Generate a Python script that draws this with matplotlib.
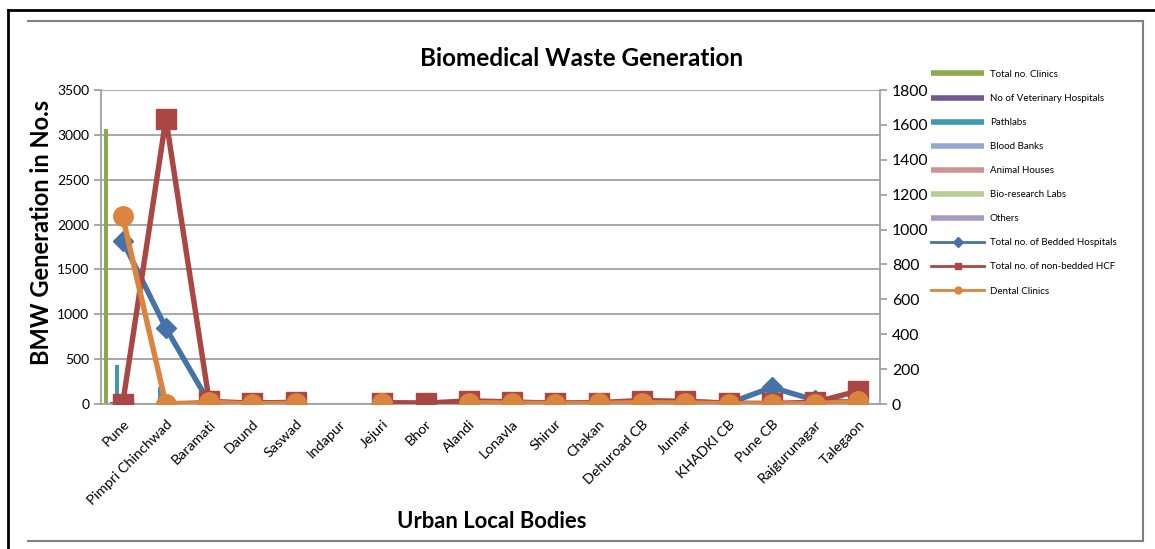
import numpy as np
import matplotlib
matplotlib.use("Agg")
import matplotlib.pyplot as plt
from matplotlib.lines import Line2D

plt.rcParams['font.family'] = ['Lato', 'DejaVu Sans']

nan = np.nan

categories = ['Pune', 'Pimpri Chinchwad', 'Baramati', 'Daund', 'Saswad', 'Indapur',
              'Jejuri', 'Bhor', 'Alandi', 'Lonavla', 'Shirur', 'Chakan',
              'Dehuroad CB', 'Junnar', 'KHADKI CB', 'Pune CB', 'Rajgurunagar', 'Talegaon']

# bar series (left axis)
total_clinics = [3060, 0, 0, 0, 0, 0, 0, 0, 0, 0, 0, 0, 0, 0, 0, 0, 0, 0]
vet_hospitals = [25, 0, 0, 0, 0, 0, 0, 0, 0, 0, 0, 0, 0, 0, 0, 0, 0, 0]
pathlabs = [430, 190, 0, 0, 0, 0, 0, 0, 0, 0, 0, 0, 0, 0, 0, 0, 0, 0]
blood_banks = [10, 5, 0, 0, 0, 0, 0, 0, 0, 0, 0, 0, 0, 0, 0, 0, 0, 0]
animal_houses = [5, 0, 0, 0, 0, 0, 0, 0, 0, 0, 0, 0, 0, 0, 0, 0, 0, 0]
bio_research = [20, 5, 0, 0, 0, 0, 0, 0, 0, 0, 0, 0, 0, 0, 0, 0, 0, 0]
others = [5, 0, 0, 0, 0, 0, 0, 0, 0, 0, 0, 0, 0, 0, 0, 0, 0, 0]

# line series (right axis)
bedded = [935, 435, 8, 6, 5, nan, 4, 4, 10, 8, 5, 6, 8, 14, 4, 95, 22, 10]
non_bedded = [0, 1635, 15, 5, 10, nan, 8, 5, 18, 12, 4, 8, 20, 15, 5, 3, 10, 75]
dental = [1075, 0, 10, 0, 5, nan, 5, nan, 8, 5, 2, 3, 8, 5, 2, 0, 2, 15]

bar_series = [
    ('Total no. Clinics', total_clinics, '#8BAA4B'),
    ('No of Veterinary Hospitals', vet_hospitals, '#71588F'),
    ('Pathlabs', pathlabs, '#4198AF'),
    ('Blood Banks', blood_banks, '#93A9CF'),
    ('Animal Houses', animal_houses, '#D19392'),
    ('Bio-research Labs', bio_research, '#B9CD96'),
    ('Others', others, '#A99BBD'),
]
line_series = [
    ('Total no. of Bedded Hospitals', bedded, '#4572A7', 'D', 10),
    ('Total no. of non-bedded HCF', non_bedded, '#AA4643', 's', 14),
    ('Dental Clinics', dental, '#DB843D', 'o', 14),
]

fig = plt.figure(figsize=(11.55, 5.49), dpi=100)
ax = fig.add_axes([101 / 1155, 1 - 404 / 549, (880 - 101) / 1155, (404 - 90) / 549])
ax2 = ax.twinx()

x = np.arange(len(categories))
w = 0.125
for i, (name, vals, col) in enumerate(bar_series):
    ax.bar(x + (i - 3) * w, vals, width=w * 0.75, color=col, zorder=2)

for name, vals, col, mk, ms in line_series:
    ax2.plot(x, vals, color=col, lw=3.9, marker=mk, markersize=ms, zorder=3)

grid_c = '#A0A0A0'
ax.set_xlim(-0.5, len(categories) - 0.5)
ax.set_ylim(0, 3500)
ax.set_yticks(np.arange(0, 3501, 500))
ax2.set_ylim(0, 1800)
ax2.set_yticks(np.arange(0, 1801, 200))
ax.yaxis.grid(True, color=grid_c, lw=1.3, zorder=0)
ax.set_axisbelow(True)

for a in (ax, ax2):
    for s in a.spines.values():
        s.set_color(grid_c)
        s.set_linewidth(1.3)
    a.spines['top'].set_visible(False)
ax.spines['right'].set_visible(False)
ax2.spines['left'].set_visible(False)
ax2.spines['bottom'].set_visible(False)

ax.set_xticks(x)
ax.set_xticklabels(categories, rotation=45, ha='right', rotation_mode='anchor', fontsize=10.3)
ax.tick_params(axis='x', length=0, pad=10)
ax.tick_params(axis='y', labelsize=10, color=grid_c, length=5, width=1.3)
ax2.tick_params(axis='y', labelsize=11.3, color=grid_c, length=5, width=1.3)

fig.text(582 / 1155, 1 - 58 / 549, 'Biomedical Waste Generation',
         ha='center', va='center', fontsize=17.5, fontweight='bold')
fig.text(42 / 1155, 1 - 232 / 549, 'BMW Generation in No.s',
         ha='center', va='center', rotation=90, fontsize=17, fontweight='bold')
fig.text(492 / 1155, 1 - 522 / 549, 'Urban Local Bodies',
         ha='center', va='center', fontsize=15.8, fontweight='bold')

handles = []
for name, vals, col in bar_series:
    handles.append(Line2D([], [], color=col, lw=4, solid_capstyle='butt', label=name))
for name, vals, col, mk, ms in line_series:
    handles.append(Line2D([], [], color=col, lw=2, marker=mk, markersize=5, label=name))
fig.legend(handles=handles, loc='upper left', bbox_to_anchor=(927 / 1155, 1 - 66 / 549),
           frameon=False, fontsize=7, handlelength=5.5, handletextpad=0.55,
           labelspacing=1.55, borderaxespad=0)

# page frame
fig.add_artist(Line2D([8 / 1155, 8 / 1155], [0, 1 - 10 / 549], color='black', lw=2))
fig.add_artist(Line2D([8 / 1155, 1], [1 - 10 / 549, 1 - 10 / 549], color='black', lw=2))
fig.add_artist(Line2D([28 / 1155, 1143 / 1155], [1 - 21 / 549, 1 - 21 / 549], color='#808080', lw=1.5))
fig.add_artist(Line2D([1143 / 1155, 1143 / 1155], [1 - 21 / 549, 1 - 541 / 549], color='#808080', lw=1.5))
fig.add_artist(Line2D([28 / 1155, 1143 / 1155], [1 - 541 / 549, 1 - 541 / 549], color='#808080', lw=1.5))

fig.savefig('out.png', dpi=100)
